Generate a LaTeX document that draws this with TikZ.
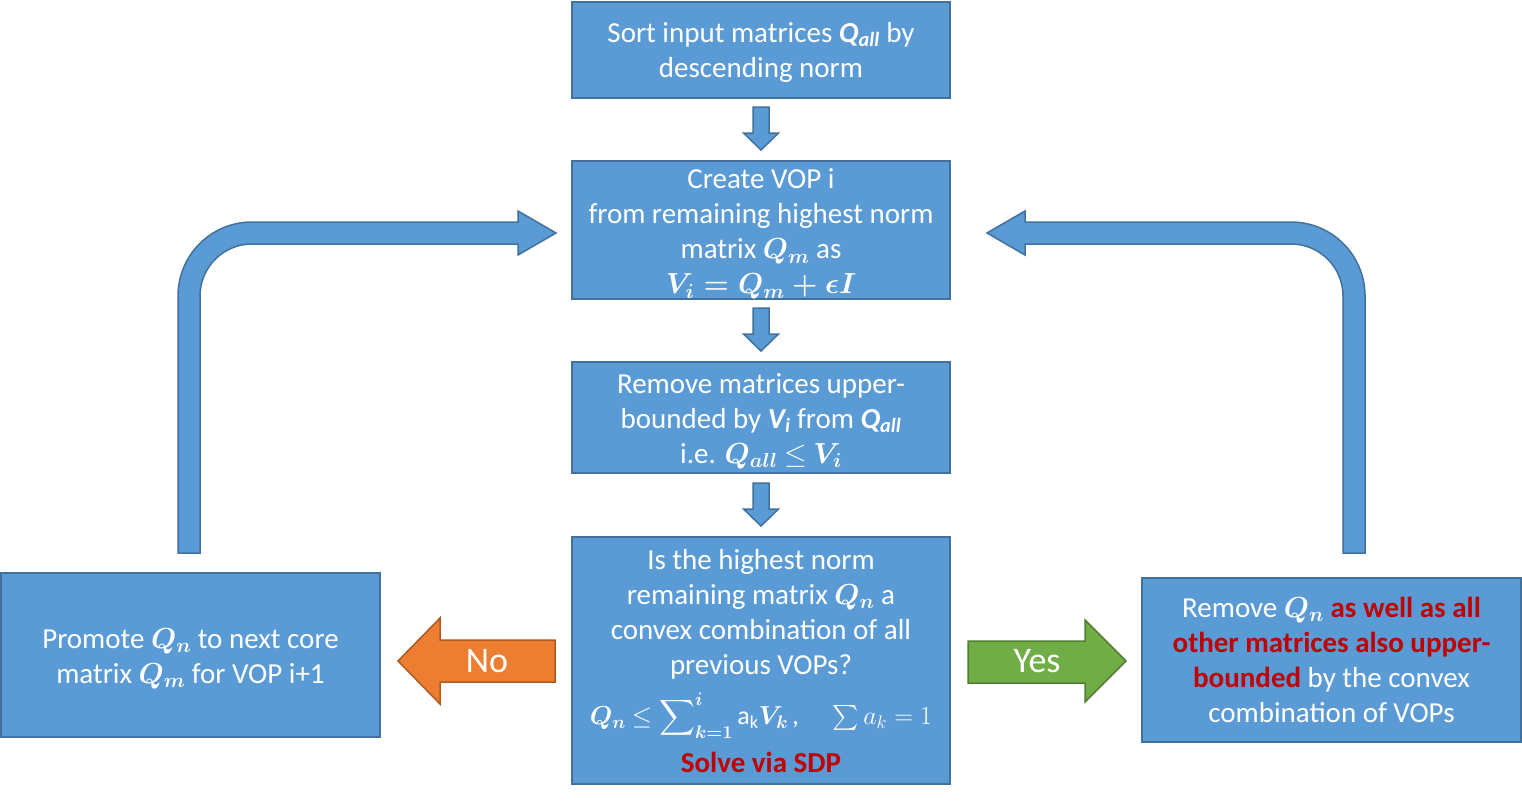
\RequirePackage{fix-cm}
\documentclass[tikz,border=0pt]{standalone}
\usepackage{amsmath,bm}
\usepackage{fontspec}
\setmainfont{Carlito}
\usetikzlibrary{calc}
\definecolor{boxfill}{HTML}{5B9BD5}
\definecolor{boxline}{HTML}{41719C}
\definecolor{nofill}{HTML}{ED7D31}
\definecolor{noline}{HTML}{AE5A21}
\definecolor{yesfill}{HTML}{70AD47}
\definecolor{yesline}{HTML}{507E32}
\definecolor{redtxt}{HTML}{C00000}
\newcommand{\bi}[2]{\textbf{\textit{#1\textsubscript{#2}}}}
\newcommand{\rb}[1]{\textbf{\color{redtxt}#1}}
\newcommand{\bq}[2]{{\boldmath$#1_{#2}$}}
\begin{document}
\begin{tikzpicture}[x=1pt,y=-1pt,
  box/.style={draw=boxline,fill=boxfill,line width=1.5pt,inner sep=0pt},
  txt/.style={text=white,align=center,inner sep=0pt,font=\fontsize{29}{35}\selectfont},
  blk/.style={draw=boxline,fill=boxfill,line width=1.5pt,line join=miter},
  downarr/.pic={\draw[blk] (-8,-21.5) -- (8,-21.5) -- (8,4.5) -- (17.5,4.5) -- (0,21.5) -- (-17.5,4.5) -- (-8,4.5) -- cycle;}
]
\fill[white] (0,0) rectangle (1522,800);
\useasboundingbox (0,0) rectangle (1522,800);

\node[box,minimum width=378,minimum height=96] (b1) at (761,50) {};
\node[txt] (t1) at ([yshift=-2]b1.center)
  {Sort input matrices \bi{Q}{all} by\\descending norm};
\node[box,minimum width=378,minimum height=138] (b2) at (761,230) {};
\node[txt] (t2) at ([yshift=-4]b2.center)
  {Create VOP i\\from remaining highest norm\\matrix \bq{Q}{m} as\\{\boldmath$V_i = Q_m + \epsilon I$}};
\node[box,minimum width=378,minimum height=111] (b3) at (761,417.5) {};
\node[txt] (t3) at ([yshift=-3.5]b3.center)
  {Remove matrices upper-\\bounded by \bi{V}{i} from \bi{Q}{all}\\i.e. \bq{Q}{all} $\le$ \bq{V}{i}};
\node[box,minimum width=378,minimum height=247] (b4) at (761,660.5) {};
\node[txt,anchor=north] (b4t) at ([yshift=-13]b4.north)
  {Is the highest norm\\remaining matrix \bq{Q}{n} a\\convex combination of all\\previous VOPs?};
\node[txt,anchor=base,font=\fontsize{26}{30}\selectfont] (b4f) at ([yshift=-50]b4t.base)
  {\bq{Q}{n} $\le \displaystyle\sum\nolimits_{\bm{k=1}}^{\bm{i}} \mathrm{a}_{\mathrm{k}}\bm{V_k}$\,,\hspace{1.3em}$\textstyle\sum a_k = 1$};
\node[txt,anchor=base] (b4s) at ([yshift=-48]b4f.base)
  {\rb{Solve via SDP}};
\node[box,minimum width=379,minimum height=164] (bl) at (190.5,655) {};
\node[txt] (tl) at ([yshift=-3.5]bl.center)
  {Promote \bq{Q}{n} to next core\\matrix \bq{Q}{m} for VOP i+1};
\node[box,minimum width=379,minimum height=164] (br) at (1331.5,660) {};
\node[txt] (tr) at (br.center)
  {Remove \bq{Q}{n} \rb{as well as all}\\\rb{other matrices also upper-}\\\rb{bounded} by the convex\\combination of VOPs};

\pic at ($(b1.south)!0.5!(b2.north)+(0,-1)$) {downarr};
\pic at ($(b2.south)!0.5!(b3.north)+(0,-1)$) {downarr};
\pic at ($(b3.south)!0.5!(b4.north)+(0,-0.5)$) {downarr};

% loop back arrows
\draw[blk] (178,553) -- (178,296) .. controls (178,255.1) and (211.1,222) .. (252,222)
  -- (518,222) -- (518,211) -- (556,233) -- (518,255) -- (518,244) -- (252,244)
  .. controls (223.3,244) and (200,267.3) .. (200,296) -- (200,553) -- cycle;
\draw[blk] (1365,553) -- (1365,296) .. controls (1365,255.1) and (1331.9,222) .. (1291,222)
  -- (1025,222) -- (1025,211) -- (987,233) -- (1025,255) -- (1025,244) -- (1291,244)
  .. controls (1319.7,244) and (1343,267.3) .. (1343,296) -- (1343,553) -- cycle;

% No / Yes arrows
\draw[draw=noline,fill=nofill,line width=1.5pt] (555,640) -- (440,640) -- (440,618) -- (398,661)
  -- (440,704) -- (440,682) -- (555,682) -- cycle;
\node[text=white,font=\fontsize{36}{40}\selectfont] (no) at (487,661) {No};
\draw[draw=yesline,fill=yesfill,line width=1.5pt] (968,641) -- (1085,641) -- (1085,620) -- (1126,661)
  -- (1085,702) -- (1085,683) -- (968,683) -- cycle;
\node[text=white,font=\fontsize{36}{40}\selectfont] (yes) at (1037,661) {Yes};
\end{tikzpicture}
\end{document}
